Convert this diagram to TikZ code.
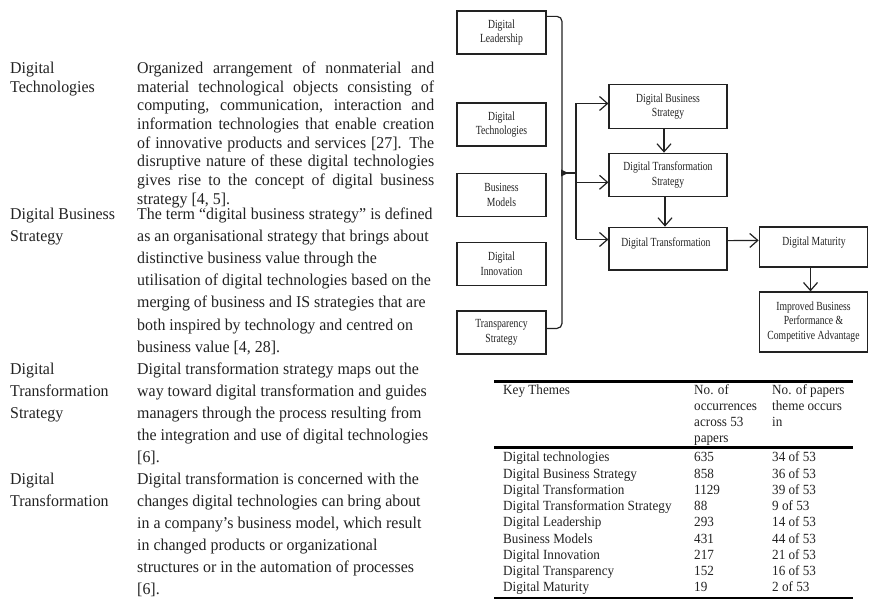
\documentclass[tikz,border=0pt]{standalone}
\usepackage{fontspec}
\setmainfont{Liberation Serif}
\newfontfamily\txtfont[FakeStretch=0.965]{Liberation Serif}
\newfontfamily\tabfont[FakeStretch=0.94]{Liberation Serif}
\newfontfamily\bxfont[FakeStretch=0.78]{Liberation Serif}
\usetikzlibrary{arrows.meta,calc}
\definecolor{ink}{HTML}{222222}
\tikzset{
  txt/.style={anchor=base west, inner sep=0pt, font=\txtfont\fontsize{16.5}{18}\selectfont, text=ink},
  tab/.style={anchor=base west, inner sep=0pt, font=\tabfont\fontsize{14}{16}\selectfont, text=ink},
  box/.style={draw=ink, line width=1.2pt, inner sep=0pt, align=center, font=\bxfont\fontsize{12.4}{14.5}\selectfont, text=ink},
  boxtext/.style={inner sep=0pt, align=center, font=\bxfont\fontsize{12.4}{14.5}\selectfont, text=ink},
  conn/.style={draw=ink, line width=1.2pt},
  arr/.style={conn, -{Straight Barb[length=8pt,width=14pt]}},
  rule/.style={draw=black, line width=2.4pt}
}
\newcommand\jline[1]{\makebox[297pt][s]{#1}}
\begin{document}
\begin{tikzpicture}[x=1pt,y=-1pt]
\useasboundingbox (0,0) rectangle (869,601);

% ---------- left column: labels ----------
\node[txt] (la1) at (10,73.5) {Digital};
\node[txt] (la2) at (10,92.2) {Technologies};
\node[txt] (lb1) at (10,220) {Digital Business};
\node[txt] (lb2) at (10,242) {Strategy};
\node[txt] (lc1) at (10,374) {Digital};
\node[txt] (lc2) at (10,396) {Transformation};
\node[txt] (lc3) at (10,418) {Strategy};
\node[txt] (ld1) at (10,484) {Digital};
\node[txt] (ld2) at (10,506) {Transformation};

% ---------- left column: descriptions ----------
\node[txt] (pa1) at (137,73.5) {\jline{Organized arrangement of nonmaterial and}};
\node[txt] (pa2) at (137,92.2) {\jline{material technological objects consisting of}};
\node[txt] (pa3) at (137,110.9) {\jline{computing, communication, interaction and}};
\node[txt] (pa4) at (137,129.6) {\jline{information technologies that enable creation}};
\node[txt] (pa5) at (137,148.3) {\jline{of innovative products and services [27]. The}};
\node[txt] (pa6) at (137,167) {\jline{disruptive nature of these digital technologies}};
\node[txt] (pa7) at (137,185.7) {\jline{gives rise to the concept of digital business}};
\node[txt] (pa8) at (137,204.4) {strategy [4, 5].};

\node[txt] (pb1) at (137,220) {The term “digital business strategy” is defined};
\node[txt] (pb2) at (137,242) {as an organisational strategy that brings about};
\node[txt] (pb3) at (137,264) {distinctive business value through the};
\node[txt] (pb4) at (137,286) {utilisation of digital technologies based on the};
\node[txt] (pb5) at (137,308) {merging of business and IS strategies that are};
\node[txt] (pb6) at (137,330) {both inspired by technology and centred on};
\node[txt] (pb7) at (137,352) {business value [4, 28].};

\node[txt] (pc1) at (137,374) {Digital transformation strategy maps out the};
\node[txt] (pc2) at (137,396) {way toward digital transformation and guides};
\node[txt] (pc3) at (137,418) {managers through the process resulting from};
\node[txt] (pc4) at (137,440) {the integration and use of digital technologies};
\node[txt] (pc5) at (137,462) {[6].};

\node[txt] (pd1) at (137,484) {Digital transformation is concerned with the};
\node[txt] (pd2) at (137,506) {changes digital technologies can bring about};
\node[txt] (pd3) at (137,528) {in a company’s business model, which result};
\node[txt] (pd4) at (137,550) {in changed products or organizational};
\node[txt] (pd5) at (137,572) {structures or in the automation of processes};
\node[txt] (pd6) at (137,594) {[6].};

% ---------- diagram ----------
\node[box, minimum width=89pt, minimum height=43pt] (dl) at (501.5,32.5) {Digital\\Leadership};
\node[box, minimum width=89pt, minimum height=43pt] (dtc) at (501.5,124.5) {Digital\\Technologies};
\node[box, minimum width=89pt, minimum height=43pt] (bm) at (501.5,195) {Business\\Models};
\node[box, minimum width=89pt, minimum height=43pt] (di) at (501.5,264) {Digital\\Innovation};
\node[box, minimum width=89pt, minimum height=43pt] (ts) at (501.5,332.5) {Transparency\\Strategy};

\node[box, minimum width=118pt, minimum height=43.5pt] (dbs) at (668,106.5) {Digital Business\\Strategy};
\node[box, minimum width=118pt, minimum height=43.5pt] (dts) at (668,175) {Digital Transformation\\Strategy};
\node[box, minimum width=118pt, minimum height=42.7pt] (dt) at (668,248.6) {};
\node[boxtext] (dtl) at (666,243) {Digital Transformation};
\node[box, minimum width=108.5pt, minimum height=40pt] (dm) at (813.5,247) {};
\node[boxtext] (dml) at (814,243) {Digital Maturity};
\node[box, minimum width=108.5pt, minimum height=60pt] (ib) at (813.5,322) {Improved Business\\Performance \&\\Competitive Advantage};

% brace
\coordinate (bj) at (562,173);
\coordinate (hub) at (576,173);
\draw[conn, rounded corners=5pt] ($(dl.north east)+(0,6)$) -| (bj);
\draw[conn, rounded corners=5pt] ($(ts.north east)+(0,18)$) -| (bj);
\fill[ink] (561,169.5) -- (568,173) -- (561,176.5) -- cycle;
\draw[conn] (bj) -- (hub);

% hub and arrows
\coordinate (h1) at (576,103.5);
\coordinate (h2) at (576,182.3);
\coordinate (h3) at (576,239.5);
\draw[conn] (h1) -- (h3);
\draw[arr] (h1) -- (h1 -| dbs.west);
\draw[arr] (h2) -- (h2 -| dts.west);
\draw[arr] (h3) -- (h3 -| dt.west);

\draw[arr] ([xshift=-4pt]dbs.south) -- ([xshift=-4pt]dts.north);
\draw[arr] ([xshift=-3pt]dts.south) -- ([xshift=-3pt]dt.north);
\draw[arr] ($(dt.north east)+(0,14)$) -- ($(dm.north west)+(0,14)$);
\draw[arr] ([xshift=-3pt]dm.south) -- ([xshift=-3pt]ib.north);

% ---------- table ----------
\coordinate (tl) at (494,381.5);
\coordinate (tr) at (853,381.5);
\draw[rule] (tl) -- (tr);
\draw[rule] (494,447.5) -- (853,447.5);
\draw[rule] (494,598) -- (853,598);

\node[tab] (h11) at (503,394.5) {Key Themes};
\node[tab] (h21) at (694,394.5) {No. of};
\node[tab] (h22) at (694,410.5) {occurrences};
\node[tab] (h23) at (694,426.5) {across 53};
\node[tab] (h24) at (694,442.5) {papers};
\node[tab] (h31) at (772,394.5) {No. of papers};
\node[tab] (h32) at (772,410.5) {theme occurs};
\node[tab] (h33) at (772,426.5) {in};

\foreach \a/\b/\c [count=\i from 0] in {
  Digital technologies/635/34 of 53,
  Digital Business Strategy/858/36 of 53,
  Digital Transformation/1129/39 of 53,
  Digital Transformation Strategy/88/9 of 53,
  Digital Leadership/293/14 of 53,
  Business Models/431/44 of 53,
  Digital Innovation/217/21 of 53,
  Digital Transparency/152/16 of 53,
  Digital Maturity/19/2 of 53}{
  \node[tab] (ra\i) at (503,461.8+16.25*\i) {\a};
  \node[tab] (rb\i) at (694,461.8+16.25*\i) {\b};
  \node[tab] (rc\i) at (772,461.8+16.25*\i) {\c};
}
\end{tikzpicture}
\end{document}
